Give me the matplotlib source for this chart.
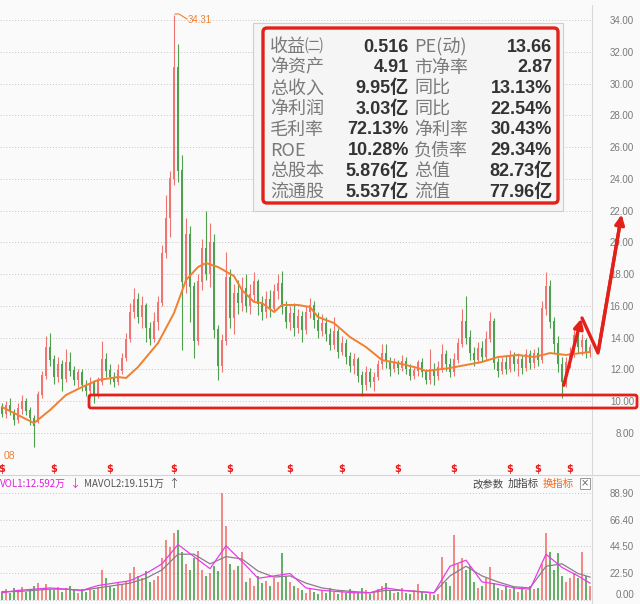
import matplotlib.pyplot as plt
import numpy as np
from matplotlib.patches import FancyBboxPatch, Rectangle

plt.rcParams['font.family'] = ['Noto Sans CJK SC', 'DejaVu Sans']

# daily candles (about 148 sessions)
opens = [9.6, 9.2, 9.7, 9.3, 8.8, 9.5, 10.0, 9.4, 8.9, 8.7,
         10.4, 11.6, 13.4, 12.6, 11.5, 12.3, 11.4, 12.4, 11.9, 11.3,
         11.8, 11.0, 10.6, 11.1, 10.4, 11.2, 12.6, 11.9, 11.5, 11.2,
         11.9, 12.7, 13.9, 15.6, 16.4, 15.3, 16.0, 14.6, 13.9, 15.0,
         16.2, 19.3, 21.5, 24.0, 31.0, 24.5, 17.5, 20.5, 17.2, 13.8,
         17.5, 19.6, 18.0, 20.0, 14.5, 12.2, 13.8, 17.8, 15.2, 16.8,
         16.2, 17.1, 16.0, 16.7, 17.5, 16.1, 15.6, 16.4, 15.8, 16.9,
         17.4, 15.9, 15.0, 15.5, 14.6, 15.3, 14.5, 15.6, 16.0, 15.1,
         14.4, 14.9, 14.2, 13.5, 14.4, 13.1, 13.6, 12.8, 12.2, 12.6,
         11.6, 11.0, 11.8, 11.2, 11.5, 12.3, 13.0, 12.5, 12.0, 12.4,
         12.1, 12.5, 12.0, 11.6, 11.9, 12.4, 11.8, 11.3, 12.0, 11.6,
         12.1, 12.9, 12.3, 11.8, 12.6, 13.6, 15.0, 14.0, 13.0, 12.6,
         13.3, 12.8, 13.9, 15.0, 12.4, 11.9, 12.4, 12.0, 12.8, 12.3,
         12.6, 12.1, 12.9, 12.4, 13.0, 12.6, 15.8, 17.2, 15.0, 13.6,
         12.3, 11.2, 12.4, 13.0, 14.1, 13.4, 13.8, 13.1]
closes = [9.2, 9.7, 9.3, 8.8, 9.5, 10.0, 9.4, 8.9, 8.4, 10.4,
          11.6, 13.4, 12.6, 11.5, 12.3, 11.4, 12.4, 11.9, 11.3, 11.8,
          11.0, 10.6, 11.1, 10.4, 11.2, 12.6, 11.9, 11.5, 11.2, 11.9,
          12.7, 13.9, 15.6, 16.4, 15.3, 16.0, 14.6, 13.9, 15.0, 16.2,
          19.3, 21.5, 24.0, 31.0, 24.5, 17.5, 20.5, 17.2, 13.8, 17.5,
          19.6, 18.0, 20.0, 14.5, 12.2, 13.8, 17.8, 15.2, 16.8, 16.2,
          17.1, 16.0, 16.7, 17.5, 16.1, 15.6, 16.4, 15.8, 16.9, 17.4,
          15.9, 15.0, 15.5, 14.6, 15.3, 14.5, 15.6, 16.0, 15.1, 14.4,
          14.9, 14.2, 13.5, 14.4, 13.1, 13.6, 12.8, 12.2, 12.6, 11.6,
          11.0, 11.8, 11.2, 11.5, 12.3, 13.0, 12.5, 12.0, 12.4, 12.1,
          12.5, 12.0, 11.6, 11.9, 12.4, 11.8, 11.3, 12.0, 11.6, 12.1,
          12.9, 12.3, 11.8, 12.6, 13.6, 15.0, 14.0, 13.0, 12.6, 13.3,
          12.8, 13.9, 15.0, 12.4, 11.9, 12.4, 12.0, 12.8, 12.3, 12.6,
          12.1, 12.9, 12.4, 13.0, 12.6, 15.8, 17.2, 15.0, 13.6, 12.3,
          11.2, 12.4, 13.0, 14.1, 13.4, 13.8, 13.1, 13.4]
highs = [9.9, 10.0, 10.2, 9.5, 9.9, 10.4, 10.2, 9.6, 9.1, 10.6,
         11.9, 14.1, 14.3, 12.9, 12.8, 12.6, 13.3, 13.1, 12.2, 12.0,
         12.0, 11.3, 11.5, 11.3, 11.5, 13.8, 13.0, 12.3, 11.8, 12.3,
         13.0, 14.3, 16.2, 17.1, 16.8, 16.6, 16.2, 15.0, 15.6, 16.6,
         19.8, 23.0, 24.5, 34.31, 32.5, 25.5, 21.5, 21.0, 17.5, 18.0,
         20.2, 22.0, 21.2, 20.5, 14.8, 14.2, 19.4, 18.3, 17.4, 17.6,
         17.8, 18.0, 17.4, 18.1, 17.7, 16.6, 16.9, 17.0, 17.4, 18.0,
         18.2, 16.3, 16.0, 16.2, 15.8, 15.7, 16.0, 16.5, 16.3, 15.6,
         15.5, 15.3, 14.6, 15.3, 14.6, 14.1, 13.9, 13.1, 13.0, 12.8,
         11.9, 12.2, 12.1, 11.8, 12.6, 13.6, 13.6, 12.8, 12.7, 12.6,
         12.9, 12.8, 12.3, 12.2, 12.6, 12.7, 12.0, 13.3, 12.4, 12.5,
         13.6, 13.2, 12.7, 13.0, 14.0, 15.8, 16.6, 14.5, 13.4, 13.7,
         13.8, 14.4, 15.6, 15.2, 12.7, 12.8, 12.9, 13.2, 13.1, 13.0,
         12.9, 13.3, 13.2, 13.3, 13.4, 16.3, 18.1, 17.6, 15.3, 14.1,
         12.8, 12.8, 13.4, 14.6, 14.5, 14.2, 14.0, 13.6]
lows = [9.0, 8.9, 9.1, 8.5, 8.6, 9.2, 9.1, 8.5, 7.08, 8.6,
        10.2, 11.4, 12.2, 11.1, 11.2, 10.6, 11.2, 11.6, 11.0, 10.9,
        10.6, 10.3, 10.2, 9.9, 10.2, 11.0, 11.5, 11.1, 10.9, 11.0,
        11.7, 12.5, 13.7, 15.2, 14.9, 14.6, 13.7, 13.5, 13.7, 14.5,
        16.0, 19.0, 20.3, 23.6, 23.8, 13.2, 16.8, 15.0, 12.7, 13.5,
        17.0, 17.6, 17.2, 14.0, 11.3, 11.8, 13.5, 14.6, 14.2, 15.5,
        15.7, 15.6, 15.5, 16.3, 15.4, 15.1, 15.2, 15.3, 15.6, 16.4,
        15.5, 14.6, 14.5, 14.1, 14.3, 13.7, 14.2, 15.2, 14.6, 14.0,
        14.1, 13.8, 13.2, 13.3, 12.7, 12.9, 12.3, 11.8, 11.7, 11.2,
        10.3, 10.7, 10.9, 10.6, 11.3, 12.0, 12.1, 11.6, 11.8, 11.7,
        11.9, 11.7, 11.3, 11.4, 11.6, 11.5, 11.1, 11.1, 11.0, 11.3,
        11.8, 11.9, 11.5, 11.6, 12.4, 13.4, 13.6, 12.6, 12.2, 12.4,
        12.5, 12.6, 13.7, 12.0, 11.5, 11.7, 11.7, 11.8, 11.9, 11.6,
        11.7, 11.9, 12.0, 12.1, 12.2, 12.4, 15.4, 14.6, 13.0, 11.8,
        10.2, 10.9, 12.1, 12.8, 13.0, 12.9, 12.7, 12.8]

volume = [7, 9, 6, 10, 8, 11, 7, 9, 12, 14, 10, 13, 9, 8, 11, 7, 10, 12, 8, 6,
          9, 7, 10, 8, 11,
          25, 18, 12, 10, 14, 13, 16, 22, 27, 20, 18, 24, 15, 17, 20,
          35, 50, 44, 56, 58, 40, 30, 25, 35, 41, 25, 20, 22, 28, 24,
          88.5, 61, 30, 25, 28, 40, 15, 18, 12, 20, 14, 16, 12, 18, 15,
          39, 20, 15, 12, 10, 8, 6, 9, 7, 5, 8, 6, 10, 7, 5,
          8, 6, 9, 7, 6, 10, 8, 5, 7, 9, 12, 14, 8, 6, 7,
          10, 6, 5, 8, 13, 7, 5, 6, 4, 5, 36, 15, 12, 54, 30,
          35, 25, 28, 15, 10, 12, 18, 27, 14, 10, 8, 12, 9, 11, 7,
          10, 8, 12, 9, 10, 30, 56, 40, 25, 39, 20, 15, 18, 22, 18, 40, 20, 12]

# price moving average, read at some sessions
ma_idx = [0, 8, 12, 16, 20, 24, 29, 31, 34, 39,
          43, 46, 49, 51, 54, 58, 60, 63, 65, 68,
          70, 74, 77, 79, 83, 87, 91, 95, 99, 104,
          106, 112, 116, 120, 124, 129, 133, 137, 141, 147]
ma_val = [9.62, 8.61, 9.43, 10.38, 10.88, 11.32, 11.51, 11.45, 12.14, 13.65,
          15.54, 17.62, 18.44, 18.69, 18.44, 17.87, 16.99, 16.24, 16.17, 15.61,
          16.05, 16.05, 15.92, 15.29, 14.91, 14.03, 13.40, 12.58, 12.39, 12.08,
          11.89, 12.08, 12.27, 12.46, 12.77, 12.90, 12.77, 13.02, 12.90, 13.09]

# volume averages, every 4th session
mv_idx = list(range(0, 148, 4)) + [147]
mavol1 = [6, 8, 9, 10, 9, 8, 12, 14, 16, 22, 30, 46, 36, 26, 45, 32, 18, 20, 22,
          10, 8, 7, 6, 6, 10, 8, 7, 6, 28, 33, 15, 13, 10, 9, 38, 27, 20, 14]
mavol2 = [7, 7, 8, 9, 9, 8, 10, 12, 14, 18, 25, 38, 38, 30, 36, 34, 24, 19, 20,
          14, 10, 8, 7, 6, 8, 8, 7, 6, 20, 28, 20, 15, 11, 10, 28, 30, 22, 19]

div_idx = [0, 13, 27, 43, 57, 72, 85, 99, 113, 127, 134, 142]

price_ticks = list(range(8, 36, 2))
vol_ticks = [0, 22.5, 44.5, 66.4, 88.9]

table_rows = [('收益㈡', '0.516', 'PE(动)', '13.66'),
              ('净资产', '4.91', '市净率', '2.87'),
              ('总收入', '9.95亿', '同比', '13.13%'),
              ('净利润', '3.03亿', '同比', '22.54%'),
              ('毛利率', '72.13%', '净利率', '30.43%'),
              ('ROE', '10.28%', '负债率', '29.34%'),
              ('总股本', '5.876亿', '总值', '82.73亿'),
              ('流通股', '5.537亿', '流值', '77.96亿')]

UP = '#f07570'
DOWN = '#4fa04f'
RED = '#e3211b'
ORANGE = '#f08030'
BG = '#fafafa'

n = len(closes)
x = np.arange(n)
o = np.array(opens); c = np.array(closes)
cols = np.where(c >= o, UP, DOWN)

fig = plt.figure(figsize=(6.4, 6.04), dpi=100, facecolor=BG)
W, H = 640.0, 604.0
ax = fig.add_axes([0, (H - 475) / H, 592 / W, 470 / H], facecolor=BG)
ax2 = fig.add_axes([0, 0, 592 / W, 127 / H], facecolor=BG)

# candles
ax.vlines(x, lows, highs, colors=cols, lw=0.8, zorder=3)
ax.bar(x, np.abs(c - o) + 0.03, bottom=np.minimum(o, c), width=0.6,
       color=cols, zorder=3)
ax.plot(ma_idx, ma_val, color=ORANGE, lw=1.4, zorder=4)
for d in div_idx:
    ax.text(d, 5.72, '$', color='#e81818', fontsize=7, fontweight='bold',
            ha='center', va='center', parse_math=False, family='DejaVu Sans')

ax.set_xlim(-0.5, n - 0.5)
ax.set_ylim(5.339, 34.945)
ax.set_yticks(price_ticks)
ax.set_yticklabels(['%.2f' % t for t in price_ticks])
ax.yaxis.tick_right()
ax.tick_params(axis='y', length=0, pad=30.2, labelsize=7, labelcolor='#7a7a7a')
for lab in ax.get_yticklabels():
    lab.set_ha('right')
    lab.set_family('Liberation Sans')
ax.set_xticks([])
ax.grid(axis='y', linestyle=(0, (1, 2)), color='#c4c4c4', lw=0.7)

# volume
ax2.bar(x, volume, width=0.65, color=cols, alpha=0.85, zorder=3)
ax2.plot(mv_idx, mavol2, color='#8c7c8c', lw=0.9, zorder=4)
ax2.plot(mv_idx, mavol1, color='#e83ce8', lw=0.9, zorder=5)
ax2.set_xlim(-0.5, n - 0.5)
ax2.set_ylim(-3.32, 102.07)
ax2.set_yticks(vol_ticks)
ax2.set_yticklabels(['%.2f' % t for t in vol_ticks])
ax2.yaxis.tick_right()
ax2.tick_params(axis='y', length=0, pad=30.2, labelsize=7, labelcolor='#7a7a7a')
for lab in ax2.get_yticklabels():
    lab.set_ha('right')
    lab.set_family('Liberation Sans')
ax2.get_yticklabels()[0].set_va('bottom')
ax2.set_xticks([])
ax2.grid(axis='y', linestyle=(0, (1, 2)), color='#c4c4c4', lw=0.7)

for a in (ax, ax2):
    for s in ('left', 'top', 'bottom'):
        a.spines[s].set_visible(False)
    a.spines['right'].set_color('#d8d8d8')

# overlay in pixel units for the panel, labels and the hand-drawn marks
ov = fig.add_axes([0, 0, 1, 1], zorder=10)
ov.set_xlim(0, W)
ov.set_ylim(H, 0)
ov.axis('off')
ov.patch.set_alpha(0)

ov.plot([0, W], [475, 475], color='#d4d4d4', lw=0.8)

ov.add_patch(Rectangle((253, 23), 310, 188, fc='#f5f5f5', ec='#cfcfcf', lw=0.8))
row_y = 47
for l1, v1, l2, v2 in table_rows:
    ov.text(270, row_y, l1, color='#7a7a7a', fontsize=13, va='center')
    ov.text(409, row_y, v1, color='#333333', fontsize=13, fontweight='bold',
            ha='right', va='center', family=['Liberation Sans', 'Noto Sans CJK SC'])
    ov.text(414, row_y, l2, color='#7a7a7a', fontsize=13, va='center')
    ov.text(552, row_y, v2, color='#333333', fontsize=13, fontweight='bold',
            ha='right', va='center', family=['Liberation Sans', 'Noto Sans CJK SC'])
    row_y += 20.7
ov.add_patch(FancyBboxPatch((263, 28), 295, 175,
                            boxstyle='round,pad=0,rounding_size=4',
                            fc='none', ec=RED, lw=2.4))

ov.add_patch(FancyBboxPatch((89, 395), 548, 13,
                            boxstyle='round,pad=0,rounding_size=2',
                            fc='none', ec=RED, lw=2.0))
ov.annotate('', xy=(582, 316), xytext=(563, 388),
            arrowprops=dict(arrowstyle='-|>', color=RED, lw=2.4, mutation_scale=14))
ov.plot([582, 598, 621], [318, 353, 218], color=RED, lw=2.4, solid_capstyle='round')
ov.annotate('', xy=(622, 212), xytext=(598, 353),
            arrowprops=dict(arrowstyle='-|>', color=RED, lw=2.4, mutation_scale=14))

ov.plot([175, 179, 187], [14, 14, 19], color=ORANGE, lw=0.8)
ov.text(188, 20, '34.31', color=ORANGE, fontsize=7, va='center', family='Liberation Sans')
ov.text(4, 456, '08', color=ORANGE, fontsize=7.5, va='center', family='Liberation Sans')

t1 = ov.text(0, 484, 'VOL1:12.592万', color='#e020e0', fontsize=7, va='center')
a1 = ov.annotate('↓', xy=(1, 0.5), xycoords=t1, xytext=(2, 0),
                 textcoords='offset points', color='#e020e0', fontsize=8, va='center')
t2 = ov.annotate('MAVOL2:19.151万', xy=(1, 0.5), xycoords=a1, xytext=(3, 0),
                 textcoords='offset points', color='#555555', fontsize=7, va='center')
ov.annotate('↑', xy=(1, 0.5), xycoords=t2, xytext=(3, 0),
            textcoords='offset points', color='#555555', fontsize=8, va='center')
ov.text(472, 484, '改参数', color='#444444', fontsize=7.5, va='center')
ov.text(508, 484, '加指标', color='#444444', fontsize=7.5, va='center')
ov.text(543, 484, '换指标', color='#f06a20', fontsize=7.5, va='center')
ov.add_patch(Rectangle((580, 478), 10, 11, fc='white', ec='#999999', lw=0.7))
ov.text(585, 483.5, '×', color='#666666', fontsize=7, ha='center', va='center',
        family='DejaVu Sans')

fig.savefig('out.png', dpi=100, facecolor=BG)
